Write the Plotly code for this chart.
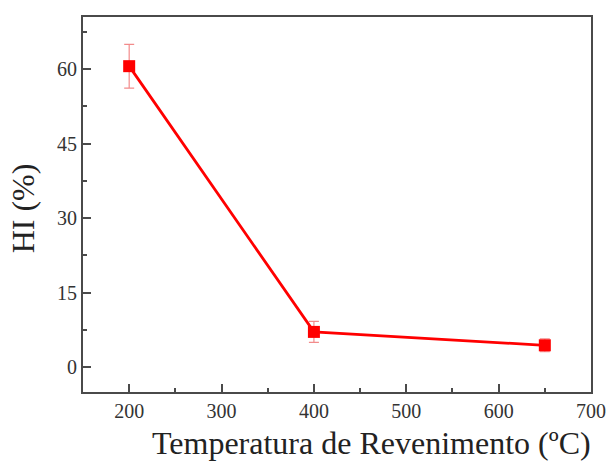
import plotly.graph_objects as go

# Tempering temperature (°C) vs hydrogen embrittlement index HI (%)
temperature = [200, 400, 650]
hi_percent = [60.6, 7.1, 4.4]
hi_error = [4.4, 2.1, 1.3]

x_ticks = [200, 300, 400, 500, 600, 700]
y_ticks = [0, 15, 30, 45, 60]

x_title = "Temperatura de Revenimento (ºC)"
y_title = "HI (%)"

RED = "#ff0000"
AXIS = "#4a4a4a"
FONT = "Liberation Serif"

fig = go.Figure()
fig.add_trace(go.Scatter(
    x=temperature,
    y=hi_percent,
    mode="lines+markers",
    line=dict(color=RED, width=2.8),
    marker=dict(symbol="square", size=12, color=RED),
    error_y=dict(type="data", array=hi_error, visible=True,
                 color="#f28b8b", thickness=1.2, width=5),
    showlegend=False,
))

axis_common = dict(
    showline=True, linecolor=AXIS, linewidth=2, mirror=True,
    ticks="inside", ticklen=8, tickwidth=1.5, tickcolor=AXIS,
    showgrid=False, zeroline=False,
    tickfont=dict(family=FONT, size=20, color="#333333"),
)

fig.update_xaxes(
    range=[150, 700], tickvals=x_ticks,
    minor=dict(ticks="inside", ticklen=4, tickwidth=1.5, tickcolor=AXIS, dtick=50, tick0=150),
    **axis_common,
)
fig.update_yaxes(
    range=[-5, 70.5], tickvals=y_ticks,
    minor=dict(ticks="inside", ticklen=4, tickwidth=1.5, tickcolor=AXIS, dtick=7.5, tick0=0),
    **axis_common,
)

# Axis titles placed as annotations so they can sit off-centre
title_font = dict(family=FONT, size=32, color="#222222")
fig.add_annotation(text=x_title, xref="paper", yref="paper", x=0.567, y=-0.136,
                   xanchor="center", yanchor="middle", showarrow=False, font=title_font)
fig.add_annotation(text=y_title, xref="paper", yref="paper", x=-0.118, y=0.49,
                   xanchor="center", yanchor="middle", showarrow=False, textangle=-90,
                   font=title_font)

fig.update_layout(
    width=611, height=461,
    margin=dict(l=83, r=20, t=17, b=69, autoexpand=False),
    paper_bgcolor="white", plot_bgcolor="white",
)

fig.write_html("out.html")
